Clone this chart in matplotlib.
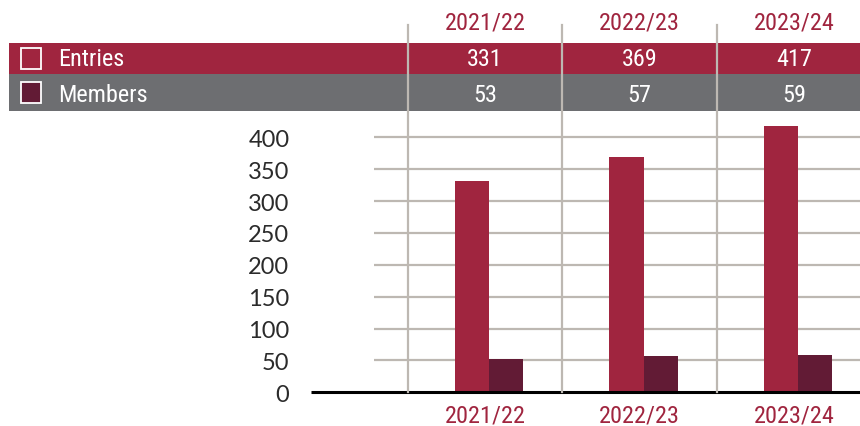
import matplotlib
matplotlib.use("Agg")
import matplotlib.pyplot as plt
from matplotlib.patches import Rectangle
import matplotlib.transforms as mtransforms
from matplotlib import font_manager as fm
import numpy as np
import os

categories = ["2021/22", "2022/23", "2023/24"]
entries = [331, 369, 417]
members = [53, 57, 59]
series_names = ["Entries", "Members"]
yticks = [0, 50, 100, 150, 200, 250, 300, 350, 400]

C_ENT = "#A0253F"
C_MEM = "#621B35"
C_GRAY = "#6D6E71"
C_GRID = "#BDB8B2"
TICKF = ["Lato", "DejaVu Sans"]

# find a condensed / narrow regular font
cand = []
for f in fm.fontManager.ttflist:
    base = os.path.basename(f.fname).lower()
    if ("narrow" in base or "condensed" in base) and "bold" not in base and "italic" not in base \
            and "oblique" not in base and "light" not in base and "semi" not in base \
            and "medium" not in base and "thin" not in base and "black" not in base and "extra" not in base:
        cand.append(f.fname)
pref = ["liberationsansnarrow-regular", "robotocondensed", "opensanscondensed", "notosans-condensed",
        "dejavusanscondensed"]
chosen = None
for p in pref:
    for c in cand:
        if p in os.path.basename(c).lower().replace("_", "").replace(" ", ""):
            chosen = c
            break
    if chosen:
        break
if chosen is None and cand:
    chosen = cand[0]

NSIZE = 17.5
def nfp(size=NSIZE):
    if chosen:
        return fm.FontProperties(fname=chosen, size=size)
    return fm.FontProperties(family="DejaVu Sans", stretch="condensed", size=size - 2.5)

W, H = 860, 427
fig = plt.figure(figsize=(W / 100, H / 100), dpi=100)

def fx(px):
    return px / W

def fy(py):
    return 1 - py / H

ax_left, ax_right, ax_bottom, ax_top = 311, 860, 393.3, 120
ax = fig.add_axes([fx(ax_left), fy(ax_bottom), fx(ax_right - ax_left), (ax_bottom - ax_top) / H])
px_per_unit = 255 / 400
ax.set_ylim(0, (ax_bottom - ax_top) / px_per_unit)
ax.set_xlim(-1.124, 2.424)
for s in ax.spines.values():
    s.set_visible(False)

x = np.arange(len(categories))
bw = 0.22
for t in yticks[1:]:
    ax.plot([-0.717, 2.424], [t, t], color=C_GRID, lw=1.6, zorder=1, solid_capstyle="butt")

ax.bar(x - 0.195, entries, width=bw, align="edge", color=C_ENT, zorder=3)
ax.bar(x + 0.025, members, width=bw, align="edge", color=C_MEM, zorder=3)

ax.plot([-1.124, 2.424], [0, 0], color="black", lw=2.2, zorder=4, solid_capstyle="butt", clip_on=False)

ax.set_yticks(yticks)
ax.set_yticklabels([str(t) for t in yticks], fontfamily=TICKF, fontsize=17, color="#2B2B2B")
ax.tick_params(axis="y", length=0, pad=15.5)
ax.set_xticks(x)
ax.set_xticklabels(categories, fontproperties=nfp(), color=C_ENT)
ax.tick_params(axis="x", length=0, pad=8)

tr = fig.transFigure
row_specs = [(44, 75, C_ENT), (75, 112, C_GRAY)]
for top, bot, col in row_specs:
    ax.add_patch(Rectangle((fx(9), fy(bot)), fx(860 - 9), (bot - top) / H, transform=tr,
                           facecolor=col, edgecolor="none", clip_on=False, zorder=5))

ax.add_patch(Rectangle((fx(21), fy(70)), fx(20), 21 / H, transform=tr, facecolor=C_ENT,
                       edgecolor="white", lw=1.3, clip_on=False, zorder=6))
ax.add_patch(Rectangle((fx(21), fy(104)), fx(20), 21 / H, transform=tr, facecolor=C_MEM,
                       edgecolor="white", lw=1.3, clip_on=False, zorder=6))
ax.text(fx(58), fy(60), series_names[0], transform=tr, fontproperties=nfp(),
        color="white", va="center", ha="left", zorder=7)
ax.text(fx(58), fy(95), series_names[1], transform=tr, fontproperties=nfp(),
        color="white", va="center", ha="left", zorder=7)

blend = mtransforms.blended_transform_factory(ax.transData, tr)
for i, c in enumerate(categories):
    ax.text(x[i], fy(23), c, transform=blend, fontproperties=nfp(),
            color=C_ENT, ha="center", va="center", clip_on=False, zorder=7)
    ax.text(x[i], fy(60), str(entries[i]), transform=blend, fontproperties=nfp(),
            color="white", ha="center", va="center", clip_on=False, zorder=7)
    ax.text(x[i], fy(95), str(members[i]), transform=blend, fontproperties=nfp(),
            color="white", ha="center", va="center", clip_on=False, zorder=7)

for i in range(len(categories)):
    ax.plot([i - 0.5, i - 0.5], [fy(ax_bottom), fy(26)], transform=blend, color=C_GRID,
            lw=1.6, clip_on=False, zorder=8)

fig.savefig("out.png", dpi=100)
